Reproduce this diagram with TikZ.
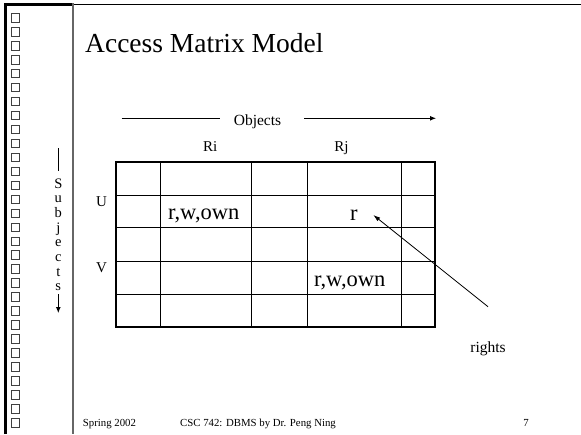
\documentclass[tikz,border=0pt]{standalone}
\usepackage{fontspec}
\setmainfont{Liberation Serif}
\usetikzlibrary{arrows.meta}
\begin{document}
\begin{tikzpicture}[x=1pt,y=-1pt,
  txt/.style={inner sep=0pt, anchor=base},
  fs/.style={font=\fontsize{#1}{#1}\selectfont},
  sq/.style={draw=black!75, line width=1pt, fill=white},
  gridline/.style={line width=1pt},
  frame/.style={line width=2pt},
  arr/.style={-{Latex[length=6pt,width=5pt]}, line width=0.9pt}]
\useasboundingbox (0,0) rectangle (581,434);
% slide border
\draw[line width=3pt] (5.5,434) -- (5.5,4.5) -- (73,4.5);
\draw[line width=1.5pt] (73,4.5) -- (581,4.5);
\foreach \i in {0,...,29} \draw[sq] (11,{13.5+\i*13.97}) rectangle ++(8.6,8.6);
\draw[black!60, line width=1.5pt] (73,3) -- (73,434);
% title
\node[txt, fs=27.5, anchor=base west] (title) at (85,52.5) {Access Matrix Model};
% subjects
\foreach \l [count=\k] in {S,u,b,j,e,c,t,s}
  \node[txt, fs=14.5] (sub\k) at (58.3,{188+(\k-1)*14.7}) {\l};
\coordinate (sl1) at (58.3,148);
\coordinate (sl2) at (58.3,171);
\draw[line width=0.9pt] (sl1) -- (sl2);
\coordinate (sa1) at (58.3,294);
\coordinate (sa2) at (58.3,313);
\draw[arr] (sa1) -- (sa2);
% objects
\node[txt, fs=15.5] (obj) at (257.5,125.5) {Objects};
\coordinate (ol1) at (121.7,118.3);
\coordinate (ol2) at (220,118.3);
\coordinate (or1) at (304,118.3);
\coordinate (or2) at (436,118.3);
\draw[line width=0.9pt] (ol1) -- (ol2);
\draw[arr] (or1) -- (or2);
\node[txt, fs=15] (ri) at (210.3,151) {Ri};
\node[txt, fs=15] (rj) at (341.5,151) {Rj};
\node[txt, fs=15] (u) at (101.5,206.5) {U};
\node[txt, fs=15] (v) at (101.5,272) {V};
% table
\foreach \y in {195.7,227.7,261,294} \draw[gridline] (115.7,\y) -- (435,\y);
\foreach \x in {160,251.7,307.7,401.7} \draw[gridline] (\x,162.3) -- (\x,326.7);
\draw[frame] (115.7,162.3) rectangle (435,326.7);
\node[txt, fs=22.5] (rw1) at (203.7,219.5) {r,w,own};
\node[txt, fs=22.5] (r1) at (353.8,220) {r};
\node[txt, fs=22.5] (rw2) at (349.7,286) {r,w,own};
% rights
\node[txt, fs=15.5] (rights) at (488,352) {rights};
\coordinate (ra) at (488,306.7);
\coordinate (rb) at (373.3,215);
\draw[-{Latex[length=7pt,width=4.5pt]}, line width=0.8pt] (ra) -- (rb);
% footer
\node[txt, fs=10.8, anchor=base west] (f1) at (82.7,426) {Spring 2002};
\node[txt, fs=10.8] (f2) at (258,426) {CSC 742: DBMS by Dr. Peng Ning};
\node[txt, fs=10.8] (f3) at (526,426) {7};
\end{tikzpicture}
\end{document}
